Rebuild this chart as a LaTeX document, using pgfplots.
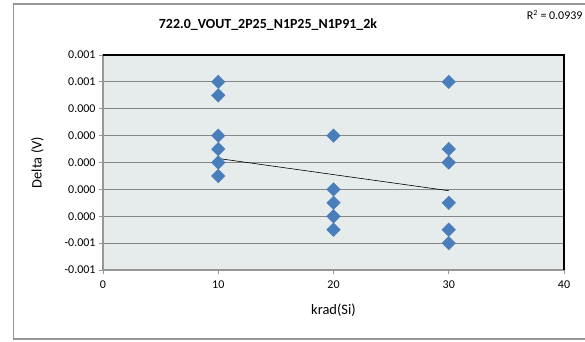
\documentclass[border=0pt]{standalone}
\usepackage{pgfplots}
\pgfplotsset{compat=1.18}
\usepackage{fontspec}
\setmainfont{Carlito}

\definecolor{plotbg}{RGB}{230,235,235}
\definecolor{gridgray}{RGB}{134,134,134}
\definecolor{axgray}{RGB}{150,150,150}
\definecolor{xlblue}{RGB}{74,126,187}

\begin{document}
\begin{tikzpicture}[x=1bp,y=1bp]
\useasboundingbox (0,0) rectangle (585,341);
% chart frame
\draw[axgray, line width=1.2bp] (13.5,2) rectangle (640,337);
\node[font=\fontsize{14}{16}\selectfont\bfseries] at (268,316) {722.0\_VOUT\_2P25\_N1P25\_N1P91\_2k};
\node[font=\fontsize{12}{14}\selectfont, anchor=east] at (586,326) {R\textsuperscript{2} = 0.0939};
\begin{axis}[
    at={(103bp,71bp)}, anchor=south west,
    width=461bp, height=215bp, scale only axis,
    xmin=0, xmax=40, ymin=-0.0008, ymax=0.0008,
    xtick={0,10,20,30,40},
    ytick={-0.0008,-0.0006,-0.0004,-0.0002,0,0.0002,0.0004,0.0006,0.0008},
    yticklabels={-0.001,-0.001,0.000,0.000,0.000,0.000,0.000,0.001,0.001},
    scaled y ticks=false,
    tick style={axgray, line width=0.8bp},
    tick align=outside,
    major tick length=4bp,
    xtick pos=bottom, ytick pos=left,
    ymajorgrids,
    grid style={gridgray, line width=0.8bp},
    axis background/.style={fill=plotbg},
    axis line style={axgray, line width=1.2bp},
    tick label style={font=\fontsize{12}{14}\selectfont},
    xticklabel style={yshift=-3bp},
    /pgf/number format/assume math mode=true,
    xlabel={krad(Si)},
    ylabel={Delta (V)},
    label style={font=\fontsize{14.5}{16}\selectfont},
    xlabel style={yshift=-9bp},
    ylabel style={yshift=14bp},
    clip=false,
]
\addplot[only marks, mark=square*, mark size=4.8bp,
  mark options={rotate=45, fill=xlblue, draw=xlblue}]
  coordinates {
    (10,0.0006) (10,0.0005) (10,0.0002) (10,0.0001) (10,0.0) (10,-0.0001)
    (20,0.0002) (20,-0.0002) (20,-0.0003) (20,-0.0004) (20,-0.0005)
    (30,0.0006) (30,0.0001) (30,0.0) (30,-0.0003) (30,-0.0005) (30,-0.0006)
  };
% linear trend line
\addplot[black, line width=0.6bp, no marks] coordinates {(10,0.00003) (30,-0.00021)};
\draw[black, line width=1.2bp] (rel axis cs:0,1) -- (rel axis cs:1,1) -- (rel axis cs:1,0);
\end{axis}
\end{tikzpicture}
\end{document}
